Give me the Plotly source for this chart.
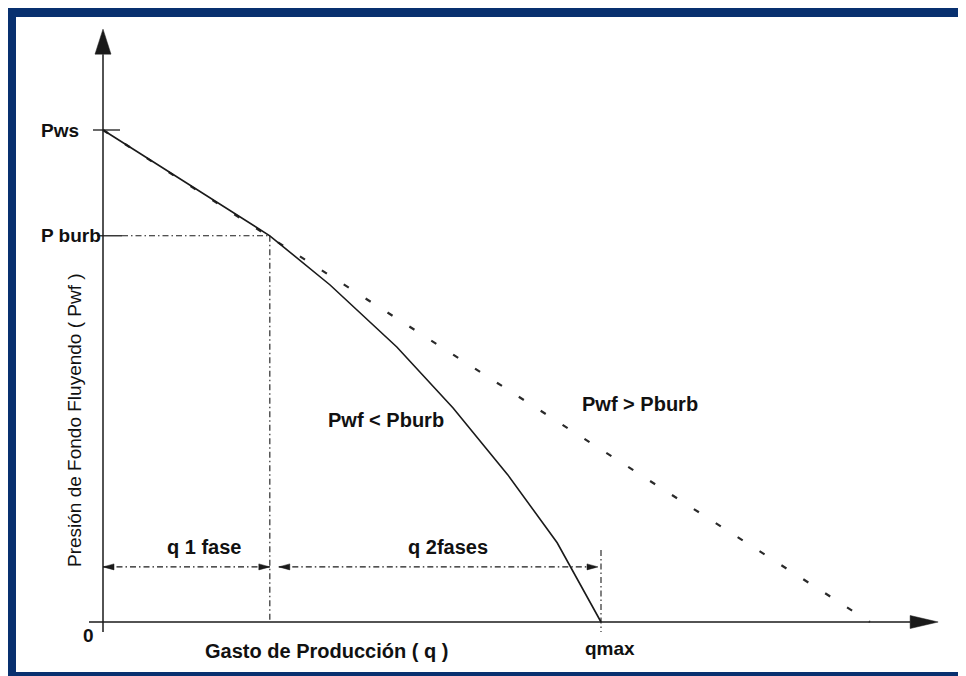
import plotly.graph_objects as go

# ---------------- data (q in % of qmax, Pwf in % of Pws) ----------------
q_ipr = [0, 33.5, 45.6, 59.0, 70.3, 81.3, 91.2, 100]
p_ipr = [100, 78.5, 68.5, 55.9, 43.5, 29.9, 16.1, 0]
q_linear = [0, 154]
p_linear = [100, 0]
q_burb = 33.5
p_burb = 78.5
p_ws = 100
q_max = 100
q_axis_end = 167.7
p_axis_end = 120.5
p_dim = 11.2          # level of the dimension arrows
q_two_phase_start = 35.3
q_two_phase_end = 99.4

# ---------------- scale (pixels per data unit) ----------------
W, H = 958, 668        # page body has an 8px margin
X0, Y0 = 95, 614       # origin pixel inside the figure
SX, SY = 4.98, 4.92
INK = "#1a1a1a"
FONT = "Liberation Sans, Arial, sans-serif"

def dq(px):
    return px / SX

def dp(px):
    return px / SY

fig = go.Figure()

def line(xs, ys, width=1.5, dash="solid", color=INK):
    fig.add_trace(go.Scatter(x=xs, y=ys, mode="lines", hoverinfo="skip",
                             line=dict(color=color, width=width, dash=dash),
                             showlegend=False))

def tri(xs, ys):
    fig.add_trace(go.Scatter(x=xs + [xs[0]], y=ys + [ys[0]], mode="lines",
                             fill="toself", fillcolor=INK, hoverinfo="skip",
                             line=dict(color=INK, width=0.5), showlegend=False))

# axes
line([-dq(14), q_axis_end - dq(28)], [0, 0], 1.5)
line([0, 0], [-dp(10), p_axis_end - dp(25)], 1.5)
tri([q_axis_end - dq(28), q_axis_end, q_axis_end - dq(28)], [dp(6.5), 0, -dp(6.5)])
tri([-dq(8), 0, dq(8)], [p_axis_end - dp(25), p_axis_end, p_axis_end - dp(25)])

# ticks at Pws and Pburb
line([-dq(10), dq(17)], [p_ws, p_ws], 1.3)
line([-dq(6), dq(19)], [p_burb, p_burb], 1.3)

# guide lines at bubble point
DD = "6px,3px,1.5px,3px"
line([dq(19), q_burb], [p_burb, p_burb], 1.1, DD)
line([q_burb, q_burb], [p_burb, 0], 1.1, DD)
line([q_max, q_max], [p_dim + dp(17), -dp(10)], 1.1, DD)

# linear IPR (dashed) and composite IPR (solid)
line(q_linear, p_linear, 2.2, "6px,20px", "#2a2a2a")
line(q_ipr, p_ipr, 1.6)

# dimension arrows
line([0, q_burb], [p_dim, p_dim], 1.1, DD)
line([q_two_phase_start, q_two_phase_end], [p_dim, p_dim], 1.1, DD)
AL, AH = dq(11), dp(3)
tri([0, AL, AL], [p_dim, p_dim + AH, p_dim - AH])
tri([q_burb, q_burb - AL, q_burb - AL], [p_dim, p_dim + AH, p_dim - AH])
tri([q_two_phase_start, q_two_phase_start + AL, q_two_phase_start + AL], [p_dim, p_dim + AH, p_dim - AH])
tri([q_two_phase_end, q_two_phase_end - AL, q_two_phase_end - AL], [p_dim, p_dim + AH, p_dim - AH])

def label(text, x, y, xanchor="center", size=20, bold=True, angle=0):
    t = f"<b>{text}</b>" if bold else text
    fig.add_annotation(x=x, y=y, text=t, showarrow=False, xanchor=xanchor,
                       yanchor="middle", textangle=angle,
                       font=dict(family=FONT, size=size, color="#111111"))

label("Pws", -dq(64), p_ws, "left", size=19)
label("P burb", -dq(64), p_burb, "left", size=19)
label("0", -dq(15), -dp(13), size=19)
label("qmax", q_max + dq(9), -dp(26), size=19)
label("Gasto de Producción ( q )", dq(223), -dp(29))
label("q 1 fase", dq(101), p_dim + dp(20))
label("q 2fases", dq(345), p_dim + dp(20))
label("Pwf &lt; Pburb", dq(283), dp(202))
label("Pwf &gt; Pburb", dq(537), dp(218))
label("Presión de Fondo Fluyendo ( Pwf )", -dq(29), dp(202), size=19, bold=False, angle=-90)

# frame (left, top, bottom bands)
NAVY = "#08306f"
fig.add_shape(type="rect", xref="paper", yref="paper", x0=0, x1=8 / W, y0=0, y1=1,
              fillcolor=NAVY, line_width=0, layer="above")
fig.add_shape(type="rect", xref="paper", yref="paper", x0=0, x1=1, y0=1 - 9 / H, y1=1,
              fillcolor=NAVY, line_width=0, layer="above")
fig.add_shape(type="rect", xref="paper", yref="paper", x0=0, x1=1, y0=0, y1=4 / H,
              fillcolor=NAVY, line_width=0, layer="above")

fig.update_layout(
    width=W, height=H, margin=dict(l=0, r=0, t=0, b=0),
    paper_bgcolor="white", plot_bgcolor="white", showlegend=False,
    xaxis=dict(range=[-X0 / SX, (W - X0) / SX], visible=False, fixedrange=True),
    yaxis=dict(range=[-(H - Y0) / SY, Y0 / SY], visible=False, fixedrange=True),
)

fig.write_html("out.html")
